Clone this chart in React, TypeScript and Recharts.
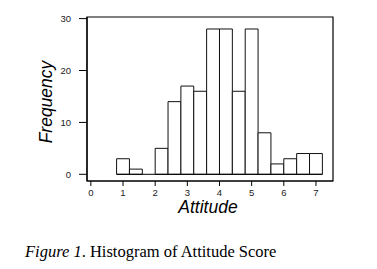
import React from 'react';
import {
  ComposedChart,
  XAxis,
  YAxis,
  ReferenceArea,
  ReferenceLine,
  Label
} from 'recharts';

// histogram bins (width 0.4) and their frequencies
const binStarts = [0.8, 1.2, 1.6, 2.0, 2.4, 2.8, 3.2, 3.6, 4.0, 4.4, 4.8, 5.2, 5.6, 6.0, 6.4, 6.8];
const binEnds = [1.2, 1.6, 2.0, 2.4, 2.8, 3.2, 3.6, 4.0, 4.4, 4.8, 5.2, 5.6, 6.0, 6.4, 6.8, 7.2];
const counts = [3, 1, 0, 5, 14, 17, 16, 28, 28, 16, 28, 8, 2, 3, 4, 4];

const xTicks = [0, 1, 2, 3, 4, 5, 6, 7];
const yTicks = [0, 10, 20, 30];
const xDomain = [-0.12, 7.53];
const yDomain = [-1.29, 30.31];

const bins = binStarts.map((lo, i) => ({ lo, hi: binEnds[i], count: counts[i] }));

const axisFont = { fontFamily: '"Liberation Sans", Arial, sans-serif', fontSize: 9.5, fill: '#222' };
const titleFont = {
  fontFamily: '"Liberation Sans", Arial, sans-serif',
  fontSize: 17.5,
  fontStyle: 'italic',
  fill: '#000'
};

export default function App() {
  return (
    <div style={{ position: 'absolute', left: 0, top: 0, width: 377, height: 269, background: '#fff' }}>
      <ComposedChart
        width={377}
        height={269}
        data={bins}
        margin={{ top: 17, right: 44, left: 0, bottom: 48 }}
      >
        <XAxis
          type="number"
          dataKey="lo"
          domain={xDomain}
          ticks={xTicks}
          allowDataOverflow
          height={40}
          tickSize={5}
          tickMargin={3}
          tick={axisFont}
          axisLine={{ stroke: '#000', strokeWidth: 1.2 }}
          tickLine={{ stroke: '#000' }}
        >
          <Label value="Attitude" position="insideTop" offset={20} dx={-2} style={titleFont} />
        </XAxis>
        <YAxis
          type="number"
          domain={yDomain}
          ticks={yTicks}
          allowDataOverflow
          width={87}
          tickSize={8}
          tickMargin={8}
          tick={axisFont}
          axisLine={{ stroke: '#000', strokeWidth: 1.2 }}
          tickLine={{ stroke: '#000' }}
        >
          <Label
            value="Frequency"
            angle={-90}
            position="center"
            dx={2}
            dy={3}
            style={{ ...titleFont, textAnchor: 'middle' }}
          />
        </YAxis>
        {/* plot frame */}
        <ReferenceArea
          x1={xDomain[0]}
          x2={xDomain[1]}
          y1={yDomain[0]}
          y2={yDomain[1]}
          fill="none"
          stroke="#000"
          strokeWidth={1.2}
          ifOverflow="visible"
        />
        <ReferenceLine
          segment={[{ x: binStarts[0], y: 0 }, { x: binEnds[binEnds.length - 1], y: 0 }]}
          stroke="#000"
          strokeWidth={1}
        />
        {bins.filter(b => b.count > 0).map(b => (
          <ReferenceArea
            key={b.lo}
            x1={b.lo}
            x2={b.hi}
            y1={0}
            y2={b.count}
            fill="#fff"
            fillOpacity={1}
            stroke="#111"
            strokeWidth={1}
          />
        ))}
      </ComposedChart>
      <div
        style={{
          position: 'absolute',
          left: 25,
          top: 242,
          fontFamily: '"Liberation Serif", "Times New Roman", serif',
          fontSize: 16.5,
          lineHeight: '19px',
          color: '#000',
          whiteSpace: 'nowrap'
        }}
      >
        <i>Figure 1</i>. Histogram of Attitude Score
      </div>
    </div>
  );
}
